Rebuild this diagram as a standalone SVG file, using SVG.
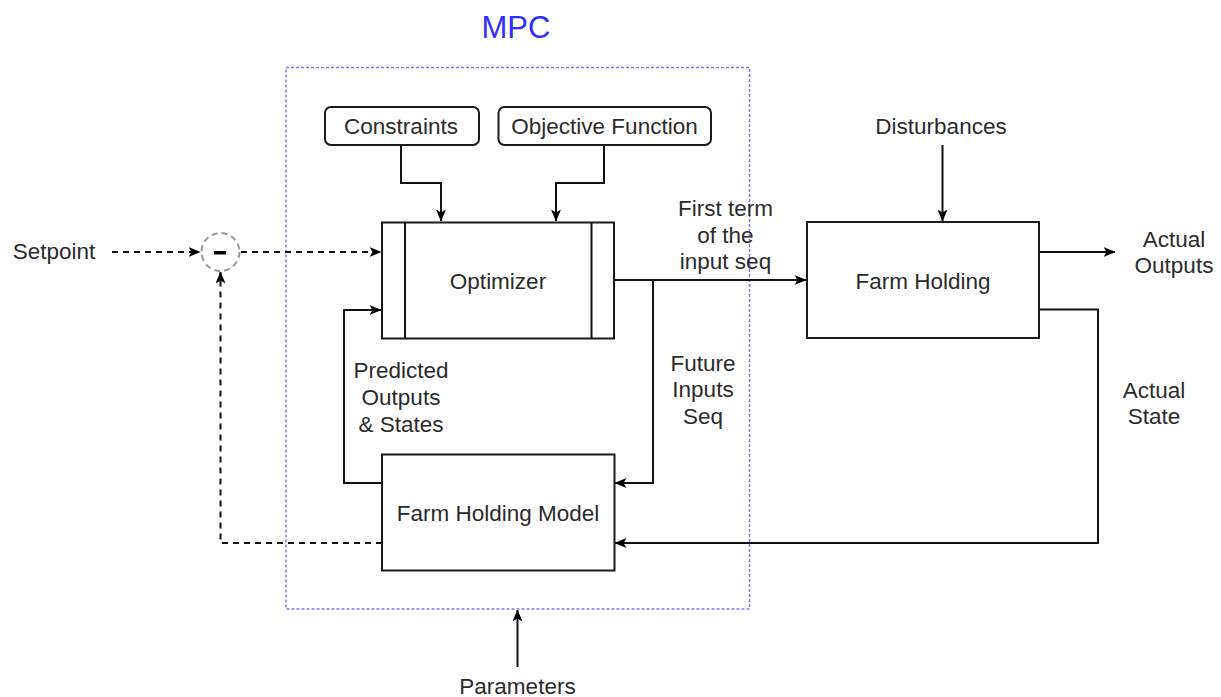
<svg xmlns="http://www.w3.org/2000/svg" width="1221" height="697" viewBox="0 0 1221 697">
<style>
  .t{font-family:"Liberation Sans",Arial,sans-serif;font-size:22.5px;fill:#2b2b2b;text-anchor:middle}
  .box{fill:#fff;stroke:#1a1a1a;stroke-width:2}
  .ln{fill:none;stroke:#111;stroke-width:2}
  .dash{fill:none;stroke:#111;stroke-width:2;stroke-dasharray:6 5}
</style>
<defs>
  <marker id="arr" viewBox="0 0 12 10" refX="11.5" refY="5" markerWidth="12" markerHeight="10" markerUnits="userSpaceOnUse" orient="auto">
    <path d="M0,0 L12,5 L0,10 L3,5 z" fill="#000"/>
  </marker>
</defs>
<rect width="1221" height="697" fill="#fff"/>

<g id="mpc">
  <rect x="286" y="67.5" width="463.5" height="541.5" fill="none" stroke="#7878ff" stroke-width="1.5" stroke-dasharray="3 2"/>
  <text x="516" y="38" style="font-family:'Liberation Sans',Arial,sans-serif;font-size:31px;fill:#2f2fff;text-anchor:middle">MPC</text>
</g>

<g id="connectors">
  <!-- setpoint to sum -->
  <line class="dash" x1="112" y1="252" x2="200" y2="252" marker-end="url(#arr)"/>
  <!-- sum to optimizer -->
  <line class="dash" x1="241" y1="252" x2="381" y2="252" marker-end="url(#arr)"/>
  <!-- feedback model to sum -->
  <polyline class="dash" points="382,543 220.5,543 220.5,272" marker-end="url(#arr)"/>
  <!-- constraints -->
  <polyline class="ln" points="401,145 401,183 441,183 441,221" marker-end="url(#arr)"/>
  <!-- objective -->
  <polyline class="ln" points="604,145 604,183 556,183 556,221" marker-end="url(#arr)"/>
  <!-- predicted -->
  <polyline class="ln" points="382,483 344,483 344,310 381,310" marker-end="url(#arr)"/>
  <!-- optimizer to farm -->
  <line class="ln" x1="614" y1="280" x2="806" y2="280" marker-end="url(#arr)"/>
  <!-- future inputs -->
  <polyline class="ln" points="653,280 653,483 615,483" marker-end="url(#arr)"/>
  <!-- disturbances -->
  <line class="ln" x1="942.5" y1="145" x2="942.5" y2="221" marker-end="url(#arr)"/>
  <!-- actual outputs -->
  <line class="ln" x1="1039" y1="252" x2="1115" y2="252" marker-end="url(#arr)"/>
  <!-- actual state -->
  <polyline class="ln" points="1039,309.5 1098,309.5 1098,543 615,543" marker-end="url(#arr)"/>
  <!-- parameters -->
  <line class="ln" x1="517.5" y1="667" x2="517.5" y2="610" marker-end="url(#arr)"/>
</g>

<g id="sum">
  <circle cx="220.5" cy="252" r="19" fill="#fff" stroke="#999" stroke-width="2" stroke-dasharray="6 4"/>
  <rect x="214" y="251" width="12" height="3.5" fill="#000"/>
</g>

<g id="constraints">
  <rect class="box" x="325" y="107" width="154" height="38" rx="6"/>
  <text class="t" x="401" y="134">Constraints</text>
</g>

<g id="objective">
  <rect class="box" x="498.5" y="107" width="212.5" height="38" rx="6"/>
  <text class="t" x="604.5" y="134">Objective Function</text>
</g>

<g id="optimizer">
  <rect class="box" x="382" y="222.5" width="232" height="116"/>
  <line class="ln" x1="405" y1="222.5" x2="405" y2="338.5"/>
  <line class="ln" x1="591.5" y1="222.5" x2="591.5" y2="338.5"/>
  <text class="t" x="498" y="289">Optimizer</text>
</g>

<g id="farm-holding-model">
  <rect class="box" x="382" y="454.5" width="232.5" height="116"/>
  <text class="t" x="498" y="521">Farm Holding Model</text>
</g>

<g id="farm-holding">
  <rect class="box" x="807" y="222" width="232" height="116"/>
  <text class="t" x="923" y="289">Farm Holding</text>
</g>

<g id="labels">
  <text class="t" x="54" y="259">Setpoint</text>
  <text class="t" x="941" y="133.5">Disturbances</text>
  <text class="t" x="517.5" y="694">Parameters</text>
  <text class="t" x="725.5" y="216">First term</text>
  <text class="t" x="725.5" y="243">of the</text>
  <text class="t" x="725.5" y="269">input seq</text>
  <text class="t" x="703" y="370.5">Future</text>
  <text class="t" x="703" y="397">Inputs</text>
  <text class="t" x="703" y="424">Seq</text>
  <text class="t" x="401" y="378">Predicted</text>
  <text class="t" x="401" y="405">Outputs</text>
  <text class="t" x="401" y="432">&amp; States</text>
  <text class="t" x="1174" y="246.5">Actual</text>
  <text class="t" x="1174" y="273">Outputs</text>
  <text class="t" x="1154" y="398">Actual</text>
  <text class="t" x="1154" y="424">State</text>
</g>
</svg>
